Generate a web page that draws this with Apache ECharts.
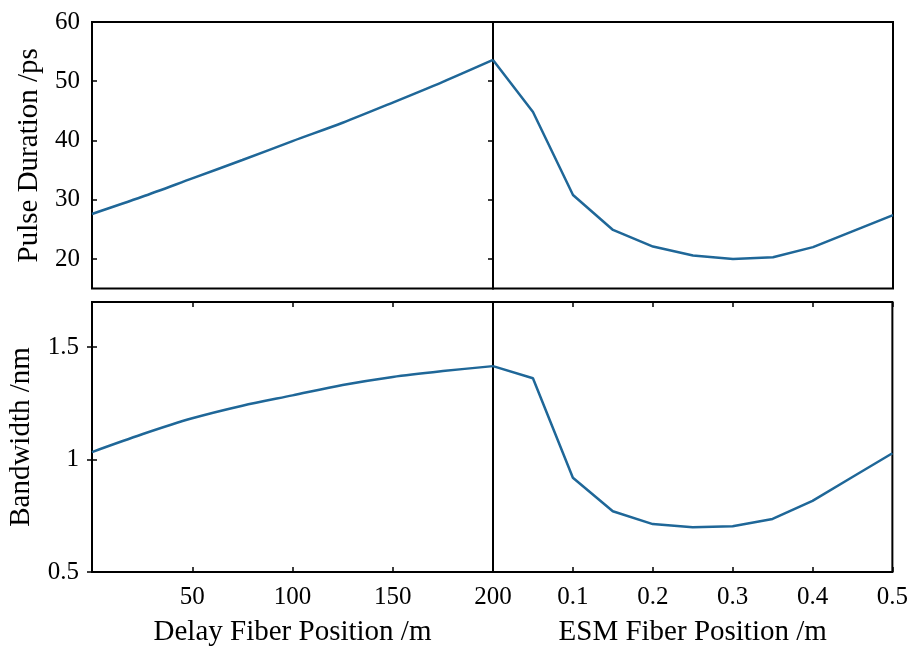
<!DOCTYPE html>
<html>
<head>
<meta charset="utf-8">
<script src="https://cdn.jsdelivr.net/npm/echarts@6/dist/echarts.min.js"></script>
<style>html,body{margin:0;padding:0;background:#fff;}#c{width:911px;height:651px;}</style>
</head>
<body>
<div id="c"></div>
<script>
const delayX = [0, 25, 50, 75, 100, 125, 150, 175, 200];
const delayPulse = [27.6, 30.5, 33.6, 36.7, 39.9, 43.0, 46.4, 49.9, 53.6];
const delayBandwidth = [1.033, 1.112, 1.183, 1.239, 1.285, 1.331, 1.367, 1.393, 1.415];
const esmX = [0, 0.05, 0.1, 0.15, 0.2, 0.25, 0.3, 0.35, 0.4, 0.45, 0.5];
const esmPulse = [53.6, 44.8, 30.8, 24.9, 22.1, 20.6, 20.0, 20.3, 22.0, 24.7, 27.4];
const esmBandwidth = [1.415, 1.361, 0.919, 0.770, 0.713, 0.699, 0.703, 0.736, 0.816, 0.922, 1.028];
const pulseTicks = [20, 30, 40, 50, 60];
const bwTicks = [0.5, 1, 1.5];
const delayTicks = [50, 100, 150, 200];
const esmTicks = [0.1, 0.2, 0.3, 0.4, 0.5];
const xNames = ['Delay Fiber Position /m', 'ESM Fiber Position /m'];
const yNames = ['Pulse Duration /ps', 'Bandwidth /nm'];

const FONT = 'Liberation Serif';
const lineColor = '#1f6798';
const tick = {show: true, inside: true, length: 5, lineStyle: {color: '#000', width: 1.5}};
const noTick = {show: false};
const border = {show: true, borderColor: '#000', borderWidth: 2, backgroundColor: 'transparent'};

function pairs(xs, ys) { return xs.map((x, i) => [x, ys[i]]); }

const grids = [
  Object.assign({left: 92, top: 22, width: 401, height: 266.6}, border),
  Object.assign({left: 493, top: 22, width: 400, height: 266.6}, border),
  Object.assign({left: 92, top: 302, width: 401, height: 270}, border),
  Object.assign({left: 493, top: 302, width: 400, height: 270}, border)
];

const labelStyle = {color: '#000', fontFamily: FONT, fontSize: 25};
const nameStyle = {color: '#000', fontFamily: FONT, fontSize: 29};

function hiddenX(grid, min, max, pos) {
  return {type: 'value', gridIndex: grid, min: min, max: max, position: pos || 'bottom',
    axisLine: {show: false}, axisTick: noTick, axisLabel: {show: false}, splitLine: {show: false}};
}

const xAxes = [
  hiddenX(0, 0, 200),
  hiddenX(1, 0, 0.5),
  {type: 'value', gridIndex: 2, min: 0, max: 200, position: 'bottom',
    name: xNames[0], nameLocation: 'middle', nameGap: 46, nameTextStyle: nameStyle,
    axisLine: {show: false}, splitLine: {show: false},
    axisTick: Object.assign({customValues: delayTicks}, tick),
    axisLabel: Object.assign({customValues: delayTicks, margin: 13}, labelStyle)},
  {type: 'value', gridIndex: 3, min: 0, max: 0.5, position: 'bottom',
    name: xNames[1], nameLocation: 'middle', nameGap: 46, nameTextStyle: nameStyle,
    axisLine: {show: false}, splitLine: {show: false},
    axisTick: Object.assign({customValues: esmTicks}, tick),
    axisLabel: Object.assign({customValues: esmTicks, margin: 13, formatter: v => String(+v.toFixed(2))}, labelStyle)},
  {type: 'value', gridIndex: 2, min: 0, max: 200, position: 'top',
    axisLine: {show: false}, splitLine: {show: false},
    axisTick: Object.assign({customValues: delayTicks}, tick), axisLabel: {show: false}},
  {type: 'value', gridIndex: 3, min: 0, max: 0.5, position: 'top',
    axisLine: {show: false}, splitLine: {show: false},
    axisTick: Object.assign({customValues: esmTicks}, tick), axisLabel: {show: false}}
];

function hiddenY(grid, min, max) {
  return {type: 'value', gridIndex: grid, min: min, max: max,
    axisLine: {show: false}, axisTick: noTick, axisLabel: {show: false}, splitLine: {show: false}};
}

const yAxes = [
  {type: 'value', gridIndex: 0, min: 15, max: 60, position: 'left',
    name: yNames[0], nameLocation: 'middle', nameGap: 48, nameTextStyle: nameStyle,
    axisLine: {show: false}, splitLine: {show: false},
    axisTick: Object.assign({customValues: pulseTicks}, tick),
    axisLabel: Object.assign({customValues: pulseTicks, margin: 12}, labelStyle)},
  hiddenY(1, 15, 60),
  {type: 'value', gridIndex: 2, min: 0.5, max: 1.7, position: 'left',
    name: yNames[1], nameLocation: 'middle', nameGap: 56, nameTextStyle: nameStyle,
    axisLine: {show: false}, splitLine: {show: false},
    axisTick: Object.assign({customValues: bwTicks}, tick),
    axisLabel: Object.assign({customValues: bwTicks, margin: 13}, labelStyle)},
  hiddenY(3, 0.5, 1.7),
  {type: 'value', gridIndex: 0, min: 15, max: 60, position: 'right',
    axisLine: {show: false}, splitLine: {show: false},
    axisTick: Object.assign({customValues: pulseTicks}, tick), axisLabel: {show: false}},
  {type: 'value', gridIndex: 2, min: 0.5, max: 1.7, position: 'right',
    axisLine: {show: false}, splitLine: {show: false},
    axisTick: Object.assign({customValues: bwTicks}, tick), axisLabel: {show: false}}
];

function line(xi, yi, data, smooth) {
  return {type: 'line', xAxisIndex: xi, yAxisIndex: yi, data: data, symbol: 'none',
    smooth: smooth || false,
    lineStyle: {color: lineColor, width: 2.5}, itemStyle: {color: lineColor}, z: 1};
}

const chart = echarts.init(document.getElementById('c'), null, {renderer: 'canvas'});
chart.setOption({
  animation: false,
  backgroundColor: '#fff',
  grid: grids,
  xAxis: xAxes,
  yAxis: yAxes,
  series: [
    line(0, 0, pairs(delayX, delayPulse), 0.3),
    line(1, 1, pairs(esmX, esmPulse)),
    line(2, 2, pairs(delayX, delayBandwidth), 0.3),
    line(3, 3, pairs(esmX, esmBandwidth))
  ]
});
</script>
</body>
</html>
